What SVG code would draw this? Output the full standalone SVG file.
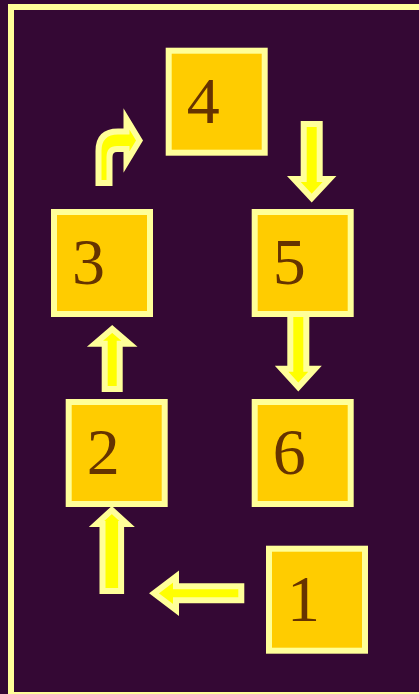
<svg xmlns="http://www.w3.org/2000/svg" width="419" height="694" viewBox="0 0 419 694">
<style>
.box{fill:#ffcc00;stroke:#ffff99;stroke-width:6}
.num{font-family:"Liberation Serif","Times New Roman",serif;font-size:66px;fill:#663300}
.arr{fill:#ffff00;stroke:#ffff99;stroke-width:6;stroke-linejoin:miter}
</style>
<rect x="0" y="0" width="419" height="694" fill="#340834"/>
<rect x="11" y="7" width="420" height="688" fill="none" stroke="#ffff99" stroke-width="6"/>
<g id="connectors">
<path class="arr" d="M303.7,124 L319.7,124 L319.7,179 L329.5,179 L311.7,198 L293.9,179 L303.7,179 Z"/>
<path class="arr" d="M290.3,312 L306.3,312 L306.3,368.7 L315,368.7 L298.3,387 L281.6,368.7 L290.3,368.7 Z"/>
<path class="arr" d="M104.7,389 L104.7,343.7 L95,343.7 L112.2,329 L129.4,343.7 L119.7,343.7 L119.7,389 Z"/>
<path class="arr" d="M102.5,591 L102.5,524 L96.5,524 L111.8,510 L127.1,524 L121.1,524 L121.1,591 Z"/>
<path class="arr" d="M241.3,586.3 L176,586.3 L176,576.5 L154,593.3 L176,610 L176,600.3 L241.3,600.3 Z"/>
<path class="arr" d="M98.5,183 L98.5,151 Q98.5,131.5 118,131.5 L126.5,131.5 L126.5,119 L139.5,140.5 L126.5,162 L126.5,149 L117,149 Q109.5,149 109.5,157 L109.5,183 Z"/>
</g>
<g id="node1"><rect class="box" x="269" y="548.7" width="96" height="102"/><text class="num" x="287" y="620.7">1</text></g>
<g id="node2"><rect class="box" x="68.7" y="402" width="96" height="102"/><text class="num" x="86.7" y="474">2</text></g>
<g id="node3"><rect class="box" x="54" y="212" width="96" height="102"/><text class="num" x="72" y="284">3</text></g>
<g id="node4"><rect class="box" x="168.7" y="50.7" width="96" height="102"/><text class="num" x="186.7" y="122.7">4</text></g>
<g id="node5"><rect class="box" x="254.7" y="212" width="96" height="102"/><text class="num" x="272.7" y="284">5</text></g>
<g id="node6"><rect class="box" x="254.7" y="402" width="96" height="102"/><text class="num" x="272.7" y="474">6</text></g>
</svg>
